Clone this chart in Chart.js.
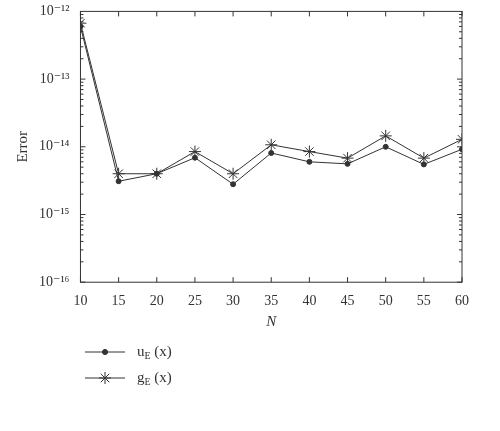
<!DOCTYPE html>
<html>
<head>
<meta charset="utf-8">
<script src="https://cdn.jsdelivr.net/npm/chart.js@4/dist/chart.umd.min.js"></script>
<style>
  body { margin: 0; background: #fff; }
  #wrap { width: 500px; height: 431px; }
</style>
</head>
<body>
<div id="wrap"><canvas id="c"></canvas></div>
<script>
const nValues = [10, 15, 20, 25, 30, 35, 40, 45, 50, 55, 60];
const uErr = [6.0e-13, 3.1e-15, 4.0e-15, 6.9e-15, 2.8e-15, 8.1e-15, 6.0e-15, 5.6e-15, 1.0e-14, 5.5e-15, 9.2e-15];
const gErr = [6.7e-13, 4.0e-15, 4.0e-15, 8.5e-15, 4.0e-15, 1.07e-14, 8.5e-15, 6.8e-15, 1.45e-14, 6.8e-15, 1.29e-14];
const yTicks = [1e-16, 1e-15, 1e-14, 1e-13, 1e-12];
const yTickLabels = ['10⁻¹⁶', '10⁻¹⁵', '10⁻¹⁴', '10⁻¹³', '10⁻¹²'];
const legendNames = [['u', 'E', ' (x)'], ['g', 'E', ' (x)']];

const FONT = '"Liberation Serif", "DejaVu Serif", serif';
const ink = '#333';

// box border, inward ticks and the legend below the plot
const frame = {
  id: 'frame',
  afterDraw(chart) {
    const c = chart.ctx, a = chart.chartArea;
    const xs = chart.scales.x, ys = chart.scales.y;
    c.save();
    c.strokeStyle = ink;
    c.lineWidth = 1;
    c.strokeRect(a.left, a.top, a.right - a.left, a.bottom - a.top);
    c.beginPath();
    nValues.forEach(n => {
      const px = xs.getPixelForValue(n);
      c.moveTo(px, a.bottom); c.lineTo(px, a.bottom - 5);
      c.moveTo(px, a.top); c.lineTo(px, a.top + 5);
    });
    for (let e = -16; e < -12; e++) {
      for (let m = 1; m <= 9; m++) {
        const py = ys.getPixelForValue(m * Math.pow(10, e));
        const len = m === 1 ? 5 : 3;
        c.moveTo(a.left, py); c.lineTo(a.left + len, py);
        c.moveTo(a.right, py); c.lineTo(a.right - len, py);
      }
    }
    c.stroke();

    // legend
    chart.data.datasets.forEach((ds, i) => {
      const y = 352 + i * 26;
      const x0 = 85;
      c.strokeStyle = ink;
      c.beginPath(); c.moveTo(x0, y); c.lineTo(x0 + 40, y); c.stroke();
      Chart.helpers.drawPoint(c, {pointStyle: ds.pointStyle, radius: ds.pointRadius, borderWidth: 1}, x0 + 20, y);
      if (ds.pointStyle === 'circle') { c.fillStyle = ink; c.beginPath(); c.arc(x0 + 20, y, ds.pointRadius, 0, Math.PI * 2); c.fill(); }
      const parts = legendNames[i];
      c.fillStyle = ink;
      c.textBaseline = 'alphabetic';
      let tx = x0 + 52;
      c.font = '15px ' + FONT;
      c.fillText(parts[0], tx, y + 4); tx += c.measureText(parts[0]).width;
      c.font = '10px ' + FONT;
      c.fillText(parts[1], tx, y + 7); tx += c.measureText(parts[1]).width;
      c.font = '15px ' + FONT;
      c.fillText(parts[2], tx, y + 4);
    });
    c.restore();
  }
};

new Chart(document.getElementById('c'), {
  type: 'line',
  data: {
    datasets: [{
      label: 'uE(x)',
      data: nValues.map((n, i) => ({x: n, y: uErr[i]})),
      borderColor: ink, backgroundColor: ink, borderWidth: 1,
      pointStyle: 'circle', pointRadius: 2.5, pointBackgroundColor: ink,
      tension: 0
    }, {
      label: 'gE(x)',
      data: nValues.map((n, i) => ({x: n, y: gErr[i]})),
      borderColor: ink, backgroundColor: ink, borderWidth: 1,
      pointStyle: 'star', pointRadius: 6, pointBorderWidth: 1,
      tension: 0
    }]
  },
  options: {
    responsive: true,
    maintainAspectRatio: false,
    animation: false,
    layout: { padding: { left: 10, right: 38, top: 10, bottom: 100 } },
    plugins: { legend: { display: false }, tooltip: { enabled: false } },
    scales: {
      x: {
        type: 'linear', min: 10, max: 60,
        ticks: { stepSize: 5, color: ink, font: { family: FONT, size: 14 } },
        grid: { display: false },
        border: { display: false },
        title: { display: true, text: 'N', color: ink, padding: 0, font: { family: FONT, size: 15, style: 'italic' } }
      },
      y: {
        type: 'logarithmic', min: 1e-16, max: 1e-12,
        afterBuildTicks: s => { s.ticks = yTicks.map(v => ({value: v})); },
        ticks: { color: ink, font: { family: FONT, size: 14 }, callback: v => yTickLabels[yTicks.indexOf(v)] ?? '' },
        grid: { display: false },
        border: { display: false },
        title: { display: true, text: 'Error', color: ink, font: { family: FONT, size: 15 } }
      }
    }
  },
  plugins: [frame]
});
</script>
</body>
</html>
